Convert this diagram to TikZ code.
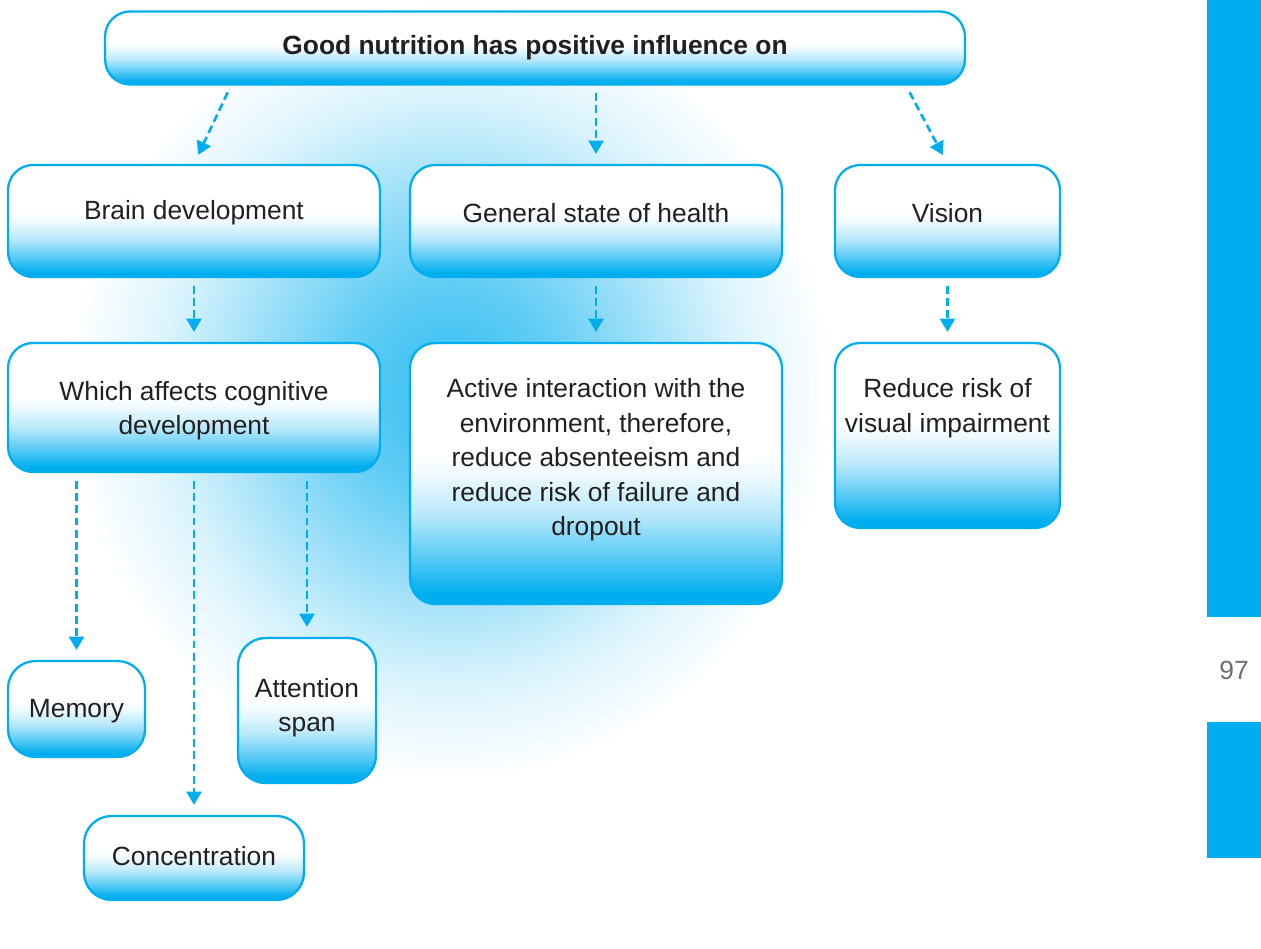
\documentclass[tikz,border=0pt]{standalone}
\usepackage{fontspec}
\setmainfont{Liberation Sans}
\usetikzlibrary{arrows.meta}

\definecolor{cyanbox}{RGB}{0,174,239}
\definecolor{textdark}{RGB}{35,31,32}
\definecolor{pagegray}{RGB}{110,110,112}

% white on top, cyan at the bottom of every box
\pgfdeclareverticalshading{boxfill}{100bp}{color(0bp)=(cyanbox); color(27bp)=(cyanbox); color(34bp)=(cyanbox!65); color(42bp)=(cyanbox!28); color(50bp)=(cyanbox!6); color(54bp)=(white); color(100bp)=(white)}
% soft glow behind the chart
\pgfdeclareradialshading{glow}{\pgfpoint{0bp}{0bp}}{color(0bp)=(cyanbox!80); color(7bp)=(cyanbox!62); color(13bp)=(cyanbox!38); color(19bp)=(cyanbox!14); color(25bp)=(white); color(50bp)=(white)}

\tikzset{
    box/.style={draw=cyanbox, line width=1.3pt, rounded corners=0.5cm, shade, shading=boxfill},
    txt/.style={align=center, text=textdark, font=\fontsize{15}{19.6}\selectfont},
    flow/.style={draw=cyanbox, line width=1.5pt, dash pattern=on 4.5pt off 2.5pt,
        -{Triangle[length=7.5pt,width=8.5pt]}, shorten <=0.15cm, shorten >=0.2cm}
}

\begin{document}
\begin{tikzpicture}[x=0.02cm, y=-0.02cm]
    \fill[white] (0,0) rectangle (1261,949);
    \useasboundingbox (0,0) rectangle (1261,949);
    \shade[shading=glow] (450,390) ellipse [x radius=7.6cm, y radius=7.8cm];

    % page strip
    \fill[cyanbox] (1207,0) rectangle (1261,617);
    \fill[cyanbox] (1207,722) rectangle (1261,858);
    \node[text=pagegray, font=\fontsize{15}{18}\selectfont] (page) at (1234,670) {97};

    % boxes
    \node[box, minimum width=17.2cm, minimum height=1.46cm] (top) at (535,48) {};
    \node[box, minimum width=7.44cm, minimum height=2.24cm] (brain) at (194,221) {};
    \node[box, minimum width=7.44cm, minimum height=2.24cm] (health) at (596,221) {};
    \node[box, minimum width=4.5cm, minimum height=2.24cm] (vision) at (947.5,221) {};
    \node[box, minimum width=7.44cm, minimum height=2.58cm] (which) at (194,407.5) {};
    \node[box, minimum width=7.44cm, minimum height=5.22cm] (active) at (596,473.5) {};
    \node[box, minimum width=4.5cm, minimum height=3.7cm] (reduce) at (947.5,435.5) {};
    \node[box, minimum width=2.74cm, minimum height=1.92cm, rounded corners=0.55cm] (memory) at (76.5,709) {};
    \node[box, minimum width=2.76cm, minimum height=2.9cm, rounded corners=0.55cm] (attn) at (307,710.5) {};
    \node[box, minimum width=4.4cm, minimum height=1.68cm, rounded corners=0.55cm] (conc) at (194,858) {};

    % texts
    \node[txt, font=\fontsize{15}{19.6}\selectfont\bfseries] (top-t) at (top.center) {Good nutrition has positive influence on};
    \node[txt] (brain-t) at ([yshift=0.16cm]brain.center) {Brain development};
    \node[txt] (health-t) at ([yshift=0.16cm]health.center) {General state of health};
    \node[txt] (vision-t) at ([yshift=0.16cm]vision.center) {Vision};
    \node[txt] (which-t) at ([yshift=-0.06cm]which.center) {Which affects cognitive\\development};
    \node[txt] (active-t) at ([yshift=0.27cm]active.center) {Active interaction with the\\environment, therefore,\\reduce absenteeism and\\reduce risk of failure and\\dropout};
    \node[txt] (reduce-t) at ([yshift=0.55cm]reduce.center) {Reduce risk of\\visual impairment};
    \node[txt] (memory-t) at ([yshift=-0.04cm]memory.center) {Memory};
    \node[txt] (attn-t) at ([yshift=0.06cm]attn.center) {Attention\\span};
    \node[txt] (conc-t) at ([yshift=0.04cm]conc.center) {Concentration};

    % arrows
    \draw[flow] ([xshift=2.54cm]top.south west) -- (brain.north);
    \draw[flow] (top.south -| health.north) -- (health.north);
    \draw[flow] ([xshift=-1.2cm]top.south east) -- (vision.north);
    \draw[flow] (brain) -- (which);
    \draw[flow] (health) -- (active);
    \draw[flow] (vision) -- (reduce);
    \draw[flow] (which.south -| memory.north) -- (memory.north);
    \draw[flow] (which.south) -- (conc.north);
    \draw[flow] (which.south -| attn.north) -- (attn.north);
\end{tikzpicture}
\end{document}
